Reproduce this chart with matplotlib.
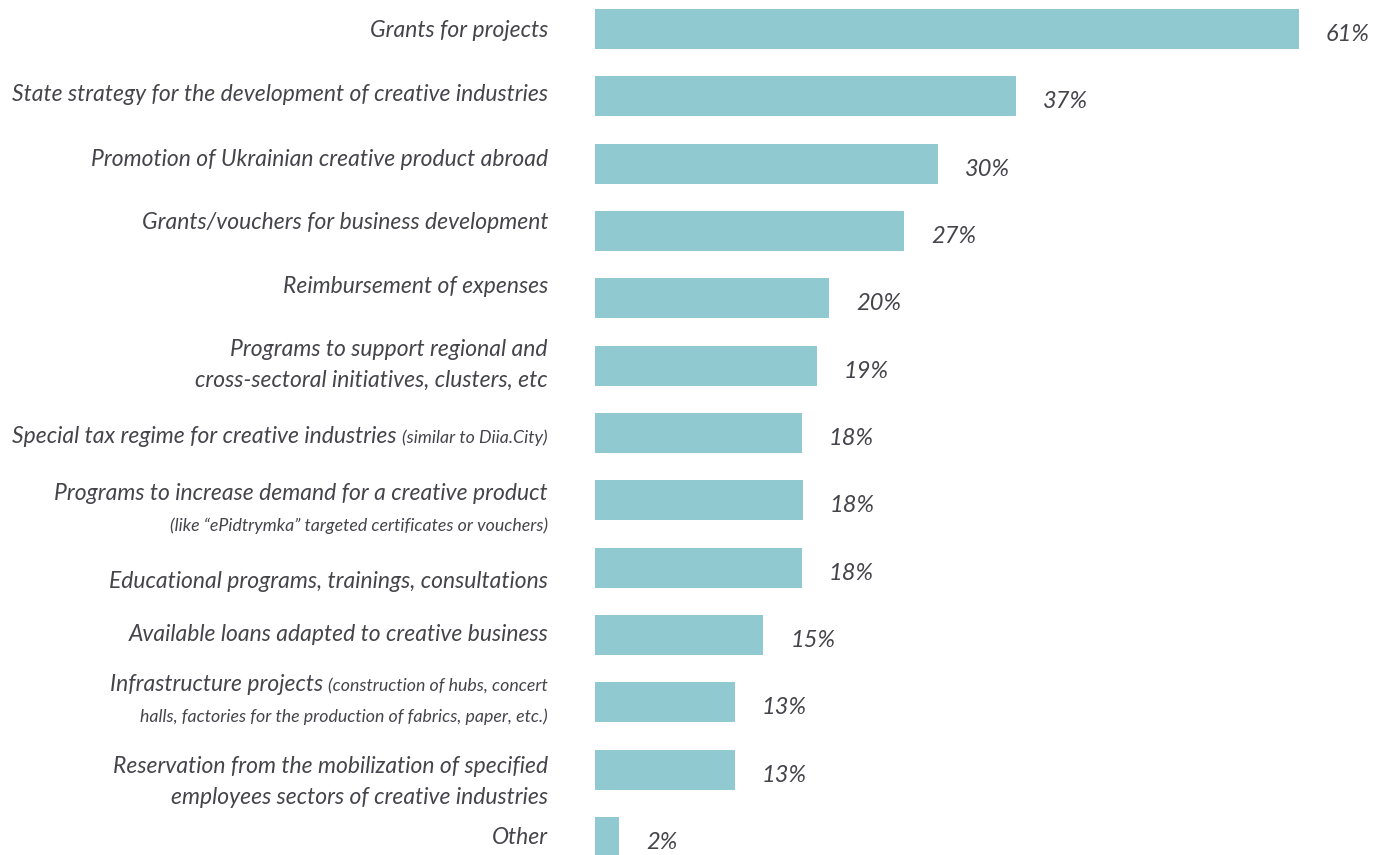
import matplotlib
matplotlib.use("Agg")
import matplotlib.pyplot as plt

# data (bar lengths estimated, labels as printed)
categories = [
    [[("Grants for projects", "big")]],
    [[("State strategy for the development of creative industries", "big")]],
    [[("Promotion of Ukrainian creative product abroad", "big")]],
    [[("Grants/vouchers for business development", "big")]],
    [[("Reimbursement of expenses", "big")]],
    [[("Programs to support regional and", "big")],
     [("cross-sectoral initiatives, clusters, etc", "big")]],
    [[("Special tax regime for creative industries ", "big"), ("(similar to Diia.City)", "small")]],
    [[("Programs to increase demand for a creative product", "big")],
     [("(like \u201cePidtrymka\u201d targeted certificates or vouchers)", "small")]],
    [[("Educational programs, trainings, consultations", "big")]],
    [[("Available loans adapted to creative business", "big")]],
    [[("Infrastructure projects ", "big"), ("(construction of hubs, concert", "small")],
     [("halls, factories for the production of fabrics, paper, etc.)", "small")]],
    [[("Reservation from the mobilization of specified", "big")],
     [("employees sectors of creative industries", "big")]],
    [[("Other", "big")]],
]
values = [61.0, 36.5, 29.7, 26.8, 20.3, 19.2, 17.9, 18.0, 17.9, 14.6, 12.1, 12.1, 2.1]
value_labels = ["61%", "37%", "30%", "27%", "20%", "19%", "18%", "18%", "18%", "15%", "13%", "13%", "2%"]

# layout: baseline of first label line, pixels from the top
label_base = [37, 101, 166, 229, 293, 356, 443, 500, 588, 641, 691, 773, 844]

bar_color = "#91c9d1"
text_color = "#44444b"

fam = "Lato"
big = dict(family=fam, style="italic", weight="normal", size=16.5, color=text_color)
small = dict(family=fam, style="italic", weight="normal", size=12.8, color=text_color)
sizes = {"big": big, "small": small}

W, H = 1385, 855
px_per_unit = 11.54
x0_px = 595
top_px = 29
step_px = 67.33

fig = plt.figure(figsize=(W / 100, H / 100), dpi=100)
ax = fig.add_axes([0, 0, 1, 1])
ax.set_xlim(-x0_px / px_per_unit, (W - x0_px) / px_per_unit)
ax.set_ylim((H - top_px) / step_px, -top_px / step_px)
ax.axis("off")

ypos = list(range(len(values)))
ax.barh(ypos, values, height=40 / step_px, color=bar_color)

for i, v in enumerate(values):
    ax.text(v + 27 / px_per_unit, i + 12 / step_px, value_labels[i],
            ha="left", va="baseline", family=fam, style="italic",
            size=17, color=text_color)

renderer = fig.canvas.get_renderer()
x_right = (548 - x0_px) / px_per_unit
inv = ax.transData.inverted()

for i, lines in enumerate(categories):
    for j, segs in enumerate(lines):
        y = (label_base[i] + 31 * j - top_px) / step_px
        x = x_right
        for txt, sz in reversed(segs):
            t = ax.text(x, y, txt, ha="right", va="baseline", **sizes[sz])
            bb = t.get_window_extent(renderer)
            x = inv.transform((bb.x0, bb.y0))[0]

fig.savefig("out.png", dpi=100)
